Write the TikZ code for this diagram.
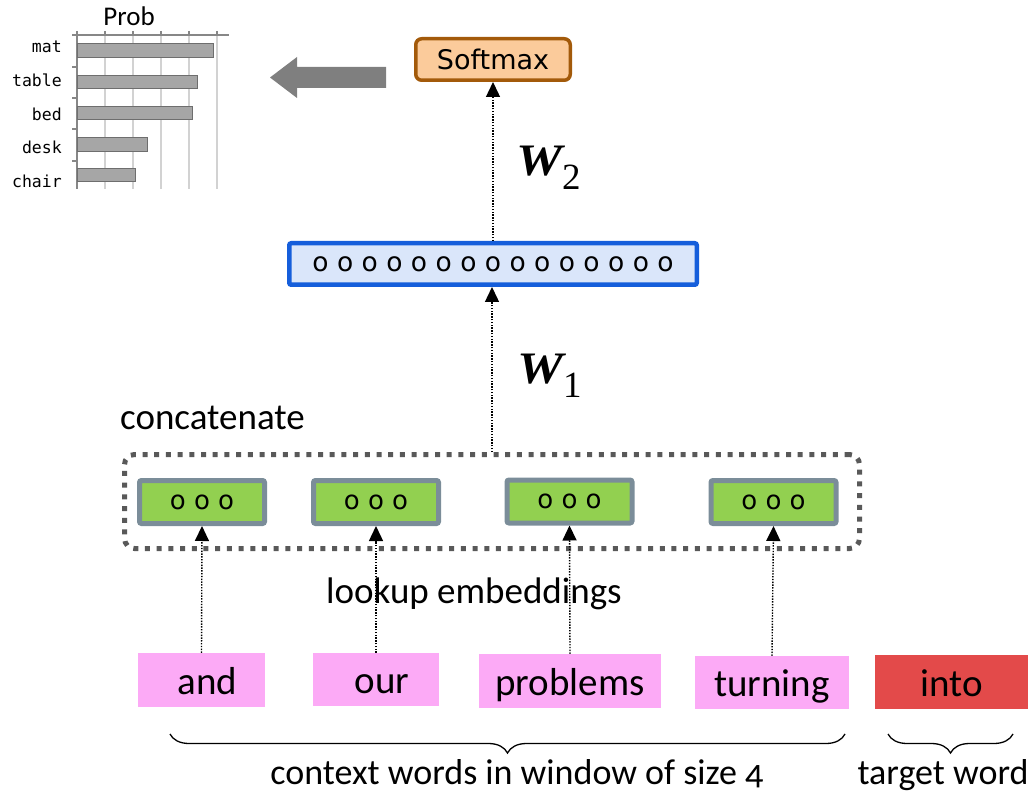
\documentclass[tikz,border=0pt]{standalone}
\usepackage{fontspec}
\setmainfont{Carlito}
\newfontfamily\dvs{DejaVu Sans}
\newfontfamily\lmono{DejaVu Sans Mono}
\newfontfamily\wserif{Liberation Serif}
\usetikzlibrary{arrows.meta,decorations.pathreplacing}
\definecolor{pinkw}{RGB}{252,170,246}
\definecolor{redw}{RGB}{227,74,74}
\definecolor{greenb}{RGB}{146,208,80}
\definecolor{greenedge}{RGB}{123,141,153}
\definecolor{bluefill}{RGB}{218,230,250}
\definecolor{blueedge}{RGB}{21,94,219}
\definecolor{softfill}{RGB}{251,203,155}
\definecolor{softedge}{RGB}{163,90,10}
\definecolor{dotgray}{RGB}{89,89,89}
\definecolor{bigarrow}{RGB}{127,127,127}
\definecolor{barfill}{RGB}{166,166,166}
\definecolor{baredge}{RGB}{110,110,110}
\definecolor{gridc}{RGB}{210,210,210}
\definecolor{axisc}{RGB}{135,135,135}
\newcommand{\wlabel}[1]{{\wserif\bfseries\itshape\fontsize{45}{45}\selectfont\scalebox{1.15}[1]{W}}{\wserif\fontsize{37}{37}\selectfont\raisebox{-14pt}{#1}}}
\begin{document}
\begin{tikzpicture}[x=1pt,y=-1pt,
  wordbox/.style={fill=pinkw, inner sep=0pt, text height=28pt, text depth=0pt,
    font=\fontsize{39}{39}\selectfont},
  embbox/.style={draw=greenedge, fill=greenb, line width=5pt, rounded corners=2pt,
    minimum width=125pt, minimum height=43pt, inner sep=0pt,
    font=\dvs\fontsize{26}{26}\selectfont},
  link/.style={line width=1.4pt, dash pattern=on 1.4pt off 1.4pt,
    -{Triangle[width=14pt,length=15pt]}},
  lbl/.style={inner sep=0pt, font=\fontsize{37}{37}\selectfont},
  blbl/.style={inner sep=0pt, font=\fontsize{36}{36}\selectfont},
  bar/.style={fill=barfill, draw=baredge, line width=1pt},
  catlbl/.style={inner sep=0pt, anchor=base east, font=\lmono\fontsize{16.5}{16.5}\selectfont},
  bracestyle/.style={decorate, decoration={brace, mirror, amplitude=19pt}, line width=1.3pt},
  wlbl/.style={inner sep=0pt, anchor=base west}
]
\useasboundingbox (0,0) rectangle (1033,791);

% ---- bar chart ----
\foreach \x in {105,133,161,189,217} \draw[gridc, line width=1.2pt] (\x,35) -- (\x,189);
\foreach \x in {77,105,133,161,189,217} \draw[axisc, line width=1.2pt] (\x,31) -- (\x,35);
\draw[axisc, line width=1.2pt] (72,35) -- (229,35);
\draw[axisc, line width=1.2pt] (77,35) -- (77,189);
\foreach \y in {67,98,129,161} \draw[axisc, line width=1.2pt] (72,\y) -- (77,\y);
\draw[bar] (77,44) rectangle (213,58);
\draw[bar] (77,76) rectangle (197,89);
\draw[bar] (77,107) rectangle (192,120);
\draw[bar] (77,138) rectangle (147,152);
\draw[bar] (77,169) rectangle (135,182);
\node[catlbl] (lmat) at (62,53) {mat};
\node[catlbl] (ltable) at (62,87) {table};
\node[catlbl] (lbed) at (62,121) {bed};
\node[catlbl] (ldesk) at (62,154) {desk};
\node[catlbl] (lchair) at (62,188) {chair};
\node[inner sep=0pt, anchor=base, font=\fontsize{27}{27}\selectfont] (prob) at (129,26) {Prob};

% ---- big gray arrow ----
\fill[bigarrow] (386,67) -- (297,67) -- (297,57) -- (270,77.5) -- (297,98) -- (297,88) -- (386,88) -- cycle;

% ---- softmax and hidden layer ----
\node[draw=softedge, fill=softfill, line width=3.5pt, rounded corners=6pt,
  minimum width=154.5pt, minimum height=41.5pt, inner sep=0pt,
  font=\dvs\fontsize{27}{27}\selectfont] (softmax) at (493,59.5) {Softmax};
\node[draw=blueedge, fill=bluefill, line width=4.5pt, rounded corners=2pt,
  minimum width=407.5pt, minimum height=41.5pt, inner sep=0pt,
  font=\dvs\fontsize{26.5}{26.5}\selectfont] (hidden) at (493,264) {o o o o o o o o o o o o o o o};

% ---- concatenation box ----
\node[draw=dotgray, line width=5pt, dash pattern=on 5pt off 6.7pt, rounded corners=10pt,
  minimum width=735pt, minimum height=94pt, inner sep=0pt] (concat) at (492,501.5) {};
\node[embbox] (g1) at (202,502) {o o o};
\node[embbox] (g2) at (376,502) {o o o};
\node[embbox] (g3) at (569.5,501.5) {o o o};
\node[embbox] (g4) at (773.5,502) {o o o};

% ---- words ----
\node[wordbox, minimum width=127pt, minimum height=54pt] (w1) at (201.5,680) {\hspace*{12pt}and};
\node[wordbox, minimum width=126pt, minimum height=53pt] (w2) at (376,679.5) {\hspace*{12pt}our};
\node[wordbox, minimum width=182pt, minimum height=54pt] (w3) at (570,681) {problems};
\node[wordbox, minimum width=154pt, minimum height=53pt] (w4) at (772,682.5) {turning};
\node[wordbox, fill=redw, minimum width=153pt, minimum height=54pt] (w5) at (951.5,682) {into};

% ---- labels ----
\node[lbl, anchor=base west] (concatlbl) at (120,429) {concatenate};
\node[lbl, anchor=base] (lookup) at (474,603) {lookup embeddings};
\node[wlbl] (W1) at (517,383) {\wlabel{1}};
\node[wlbl] (W2) at (516,176) {\wlabel{2}};

% ---- connectors ----
\draw[link] (w1.north) -- (g1.south);
\draw[link] (w2.north) -- (g2.south);
\draw[link] (w3.north) -- (g3.south);
\draw[link] (w4.north) -- (g4.south);
\draw[link] (concat.north) -- (concat.north |- hidden.south);
\draw[link] (hidden.north) -- (softmax.south);

% ---- braces ----
\coordinate (b1s) at (170,734);
\coordinate (b1e) at (845,734);
\coordinate (b2s) at (888,734);
\coordinate (b2e) at (1013,734);
\draw[bracestyle] (b1s) -- (b1e);
\draw[bracestyle] (b2s) -- (b2e);
\node[blbl, anchor=base] (ctx) at (517,784) {context words in window of size {\addfontfeature{Numbers=OldStyle}4}};
\node[blbl, anchor=base] (tgt) at (943,784) {target word};
\end{tikzpicture}
\end{document}
